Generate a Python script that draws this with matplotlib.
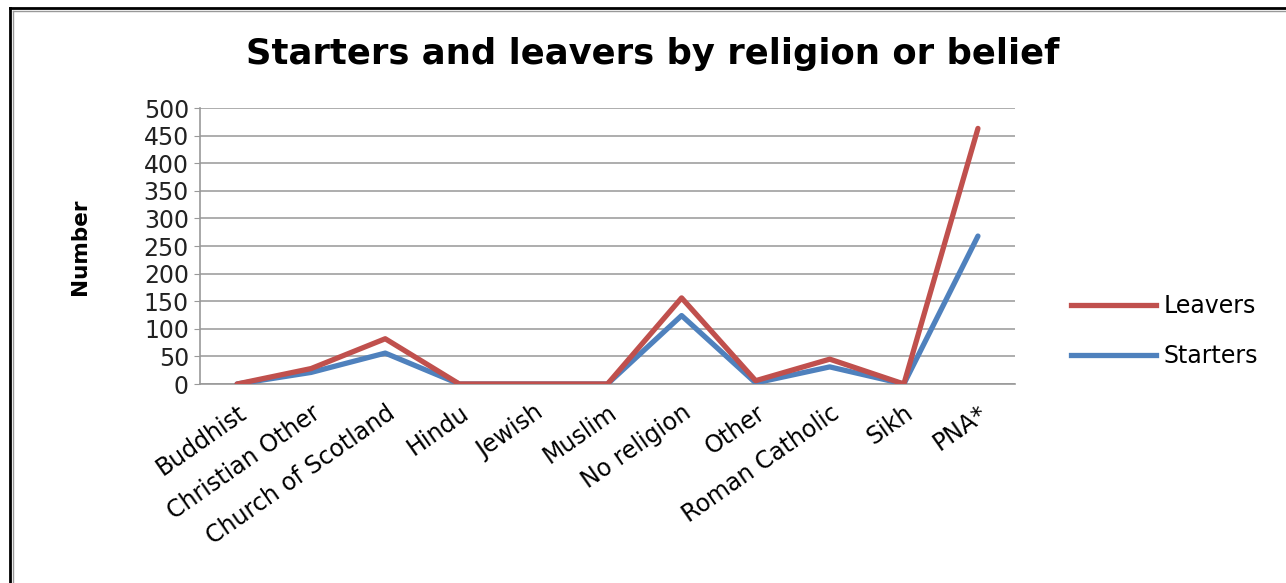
import matplotlib.pyplot as plt
from matplotlib.lines import Line2D

categories = ["Buddhist", "Christian Other", "Church of Scotland", "Hindu", "Jewish",
              "Muslim", "No religion", "Other", "Roman Catholic", "Sikh", "PNA*"]
leavers = [0, 28, 82, 0, 0, 0, 156, 6, 45, 0, 463]
starters = [0, 21, 56, 0, 0, 0, 124, 2, 31, 0, 268]
yticks = [0, 50, 100, 150, 200, 250, 300, 350, 400, 450, 500]

red = "#C0504D"
blue = "#4F81BD"

fig = plt.figure(figsize=(12.86, 5.83), dpi=100)
ax = fig.add_axes([200/1286, 1 - 384/583, 815/1286, 276/583])

x = list(range(len(categories)))
ax.plot(x, starters, color=blue, linewidth=3.8, solid_capstyle="round", label="Starters", zorder=3)
ax.plot(x, leavers, color=red, linewidth=3.8, solid_capstyle="round", label="Leavers", zorder=4)

ax.set_xlim(-0.5, len(categories) - 0.5)
ax.set_ylim(0, 500)
ax.set_yticks(yticks)
ax.set_yticklabels([str(v) for v in yticks], fontsize=17, color="#222222")
ax.set_xticks(x)
ax.set_xticklabels(categories, rotation=35, ha="right", rotation_mode="anchor", fontsize=17)
ax.tick_params(axis="x", length=0, pad=12)
ax.tick_params(axis="y", length=4, color="#999999", pad=4)
ax.grid(axis="y", color="#A0A0A0", linewidth=1.2)
ax.set_axisbelow(True)
for s in ["top", "right"]:
    ax.spines[s].set_visible(False)
ax.spines["left"].set_color("#999999")
ax.spines["bottom"].set_color("#999999")
ax.spines["left"].set_linewidth(1.2)
ax.spines["bottom"].set_linewidth(1.2)

fig.text(653/1286, 1 - 54/583, "Starters and leavers by religion or belief",
         ha="center", va="center", fontsize=25.5, fontweight="bold")
fig.text(80/1286, 1 - 247/583, "Number", rotation=90, ha="center", va="center",
         fontsize=15.5, fontweight="bold")

handles = [Line2D([], [], color=red, linewidth=3.8), Line2D([], [], color=blue, linewidth=3.8)]
fig.legend(handles, ["Leavers", "Starters"], loc="center left",
           bbox_to_anchor=(1050/1286, 1 - 331/583), frameon=False, fontsize=17,
           handlelength=3.6, handletextpad=0.3, labelspacing=1.1)

# frame lines
fig.add_artist(Line2D([10/1286, 10/1286], [0, 1 - 8/583], transform=fig.transFigure,
                      color="black", linewidth=2))
fig.add_artist(Line2D([10/1286, 1], [1 - 8/583, 1 - 8/583], transform=fig.transFigure,
                      color="black", linewidth=2))
fig.add_artist(Line2D([13/1286, 13/1286], [0, 1 - 11/583], transform=fig.transFigure,
                      color="#999999", linewidth=1))
fig.add_artist(Line2D([13/1286, 1], [1 - 11/583, 1 - 11/583], transform=fig.transFigure,
                      color="#999999", linewidth=1))

fig.savefig("out.png", dpi=100)
